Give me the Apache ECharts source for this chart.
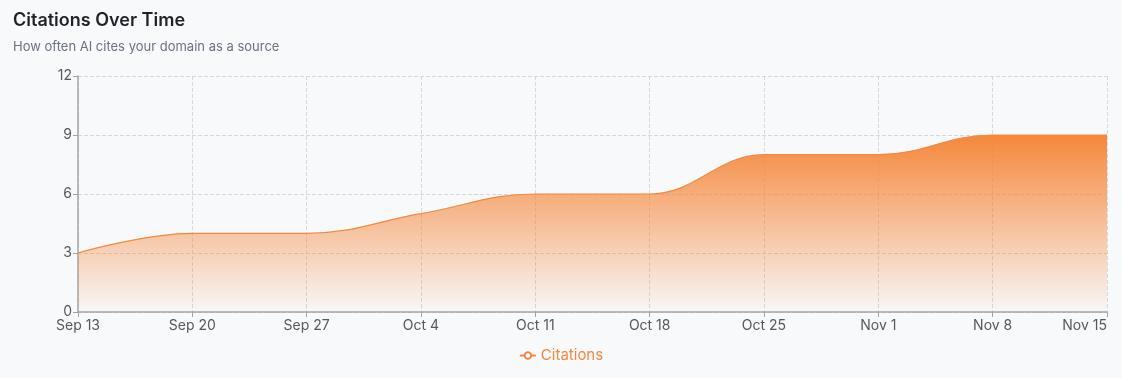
<!DOCTYPE html>
<html>
<head>
<meta charset="utf-8">
<script src="https://cdn.jsdelivr.net/npm/echarts@6/dist/echarts.min.js"></script>
<style>
  html, body { margin: 0; padding: 0; background: #f8f9fb; }
  #chart { width: 1122px; height: 378px; }
</style>
</head>
<body>
<div id="chart"></div>
<script>
const dates = ["Sep 13", "Sep 20", "Sep 27", "Oct 4", "Oct 11", "Oct 18", "Oct 25", "Nov 1", "Nov 8", "Nov 15"];
const citations = [3, 4, 4, 5, 6, 6, 8, 8, 9, 9];
const yTicks = { min: 0, max: 12, interval: 3 };

const orange = "#f3893f";
const font = "Inter, 'Noto Sans', sans-serif";

const chart = echarts.init(document.getElementById("chart"));
chart.setOption({
  backgroundColor: "#f8f9fb",
  textStyle: { fontFamily: font },
  title: {
    text: "Citations Over Time",
    subtext: "How often AI cites your domain as a source",
    left: 8,
    top: 7,
    itemGap: 11,
    textStyle: { fontSize: 18, fontWeight: 600, color: "#1f2328", fontFamily: font },
    subtextStyle: { fontSize: 13, color: "#6b7280", fontFamily: font },
  },
  legend: {
    bottom: 10,
    left: "center",
    data: ["Citations"],
    itemWidth: 16,
    itemHeight: 8,
    itemGap: 6,
    textStyle: { color: orange, fontSize: 15, fontFamily: font },
  },
  grid: { left: 78, right: 15, top: 76, bottom: 66, containLabel: false, outerBoundsMode: "none" },
  xAxis: {
    type: "category",
    data: dates,
    boundaryGap: false,
    axisLine: { lineStyle: { color: "#a3a5aa", width: 1.5 } },
    axisTick: { show: true, alignWithLabel: true, lineStyle: { color: "#a3a5aa" } },
    axisLabel: { color: "#55585e", fontSize: 14, margin: 7, interval: 0, alignMaxLabel: "right", fontFamily: font },
    splitLine: { show: true, lineStyle: { color: "#d6d8dc", type: "dashed" } },
  },
  yAxis: {
    type: "value",
    min: yTicks.min,
    max: yTicks.max,
    interval: yTicks.interval,
    axisLine: { show: true, lineStyle: { color: "#a3a5aa", width: 1.5 } },
    axisTick: { show: true, lineStyle: { color: "#a3a5aa" } },
    axisLabel: { color: "#55585e", fontSize: 14, margin: 6, fontFamily: font },
    splitLine: { show: true, lineStyle: { color: "#d6d8dc", type: "dashed" } },
  },
  series: [
    {
      name: "Citations",
      type: "line",
      data: citations,
      smooth: 0.4,
      showSymbol: false,
      symbol: "emptyCircle",
      itemStyle: { color: orange },
      lineStyle: { color: orange, width: 1.2 },
      areaStyle: {
        opacity: 1,
        color: new echarts.graphic.LinearGradient(0, 0, 0, 1, [
          { offset: 0, color: "rgba(245,133,55,0.98)" },
          { offset: 1, color: "rgba(245,133,55,0.02)" },
        ]),
      },
    },
  ],
});
</script>
</body>
</html>
